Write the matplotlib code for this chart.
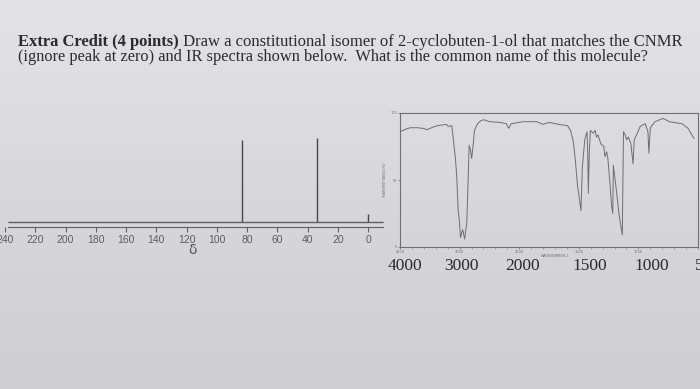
import numpy as np
import matplotlib
matplotlib.use("Agg")
import matplotlib.pyplot as plt
import matplotlib.transforms as mtransforms

# --- data ---
nmr_shift = [83, 34, 0]          # ppm
nmr_height = [0.99, 1.01, 0.10]  # relative intensity
nmr_ticks = list(range(240, -1, -20))

ir_wn = [4000, 3900, 3830, 3700, 3610, 3550, 3500, 3380, 3220, 3192, 3130, 3097,
         3070, 3047, 3025, 3005, 2985, 2950, 2915, 2880, 2860, 2840, 2815, 2798,
         2775, 2750, 2700, 2650, 2600, 2490, 2325, 2215, 2177, 2133, 1967, 1852,
         1800, 1750, 1666, 1595, 1569, 1546, 1528, 1511, 1492, 1482, 1470, 1450,
         1431, 1425, 1420, 1412, 1403, 1378, 1363, 1352, 1339, 1315, 1290, 1281,
         1266, 1256, 1240, 1225, 1215, 1210, 1187, 1162, 1135, 1125, 1110, 1099,
         1084, 1063, 1045, 1035, 1016, 985, 943, 920, 912, 900, 861, 793, 740,
         634, 583, 534]
ir_t = [86, 88, 89, 89, 88.5, 87.5, 88.5, 90.5, 91.5, 90, 90.5, 77,
        66, 52, 28, 20, 7, 13, 6, 18, 45, 76, 72, 66,
        75, 87, 92, 94, 95, 93.5, 93, 92, 88.5, 92, 93.5, 93.5,
        91.5, 93, 91.5, 90.5, 87, 78.6, 63.7, 46, 34, 27, 60, 80,
        86, 70, 40, 70, 87, 85, 87, 82, 83.6, 77, 75, 67.4,
        71, 66, 49, 31, 25, 61, 44, 24, 9, 86, 83.6, 80,
        82, 77, 62, 80, 83.6, 90, 92, 86, 70, 89, 93.5, 96, 93.5,
        92, 88.5, 81]
ir_ticks = [4000, 3000, 2000, 1500, 1000, 500]
ir_minor = [3800, 3600, 3400, 3200, 2800, 2600, 2400, 2200, 1900, 1800, 1700,
            1600, 1400, 1300, 1200, 1100, 900, 800, 700, 600]
# the big labels were typed under the printout, a little right of its ticks
label_shift_px = [5, 2, 3, 11, 13, 10]

line1_bold = "Extra Credit (4 points)"
line1_rest = " Draw a constitutional isomer of 2-cyclobuten-1-ol that matches the CNMR"
line2 = "(ignore peak at zero) and IR spectra shown below.  What is the common name of this molecule?"

serif = "Liberation Serif"
ink = "#2b2b2d"

fig = plt.figure(figsize=(7, 3.89), dpi=100)

# paper background
bg = fig.add_axes([0, 0, 1, 1], zorder=-10)
grad = np.linspace(0, 1, 100)[:, None]
top = np.array([0.89, 0.89, 0.90])
bot = np.array([0.805, 0.805, 0.825])
img = top[None, None, :] * (1 - grad[..., None]) + bot[None, None, :] * grad[..., None]
bg.imshow(np.repeat(img, 2, axis=1), aspect="auto", extent=[0, 1, 0, 1])
bg.axis("off")

# question text
t1 = fig.text(18 / 700, 1 - 42 / 389, line1_bold, fontsize=12, fontweight="bold",
              family=serif, color=ink, va="center", ha="left")
plt.annotate(line1_rest, xy=(1, 0), xycoords=t1, va="bottom", ha="left",
             fontsize=12, family=serif, color=ink, annotation_clip=False)
fig.text(18 / 700, 1 - 57 / 389, line2, fontsize=11.8, family=serif, color=ink,
         va="center", ha="left")

# --- C-NMR ---
ax1 = fig.add_axes([0, (389 - 227) / 389, 385 / 700, 97 / 389], facecolor="none")
ax1.vlines(nmr_shift, 0, nmr_height, color="#48484a", lw=1.0)
ax1.hlines(0, 238, -10, color="#606062", lw=1.0)
ax1.set_xlim(243.3, -11.2)
ax1.set_ylim(-0.06, 1.108)
for s in ["top", "left", "right"]:
    ax1.spines[s].set_visible(False)
ax1.spines["bottom"].set_bounds(238, -10)
ax1.spines["bottom"].set_color("#606062")
ax1.set_yticks([])
ax1.set_xticks(nmr_ticks)
ax1.set_xticklabels([str(v) for v in nmr_ticks], family="Liberation Sans",
                    fontsize=7.5, color="#5e5e62")
ax1.tick_params(axis="x", direction="out", length=3.6, width=0.8, color="#606062", pad=2)
ax1.set_xlabel("δ", family="DejaVu Sans", fontsize=10, color="#555558", labelpad=-1)

# --- IR (SDBS style: 2x expanded below 2000 cm-1) ---
def fwd(w):
    w = np.asarray(w, dtype=float)
    return -np.where(w >= 2000, (4000 - w) / 1000, 2 + (2000 - w) / 500)

def inv(p):
    p = -np.asarray(p, dtype=float)
    return np.where(p <= 2, 4000 - 1000 * p, 2000 - 500 * (p - 2))

ax2 = fig.add_axes([400 / 700, (389 - 247) / 389, 298 / 700, 134 / 389], facecolor="none")
ax2.set_xscale("function", functions=(fwd, inv))
ax2.plot(ir_wn, ir_t, color="#6e6e72", lw=0.7)
ax2.set_xlim(4000, 517)
ax2.set_ylim(0, 100)
for s in ax2.spines.values():
    s.set_color("#707074")
    s.set_linewidth(0.8)
ax2.set_xticks(ir_ticks)
ax2.set_xticklabels([])
ax2.set_xticks(ir_minor, minor=True)
ax2.tick_params(axis="x", which="major", direction="out", length=1.5, width=0.5,
                color="#707074")
ax2.tick_params(axis="x", which="minor", direction="out", length=1.2, width=0.5,
                color="#8a8a8e")
ax2.set_yticks([0, 50, 100])
ax2.set_yticklabels(["0", "50", "100"], fontsize=2.5, color="#707074")
ax2.tick_params(axis="y", direction="out", length=1.2, width=0.5, color="#707074", pad=1)

xt = ax2.get_xaxis_transform()
for v, dx in zip(ir_ticks, label_shift_px):
    # tiny printed tick values
    if v != 500:
        ax2.text(v, -0.025, str(v), transform=xt, fontsize=2.5,
                 color="#707074", ha="center", va="top")
    # large typed labels underneath
    ax2.text(v, -0.145, str(v), fontsize=12.5, family=serif, color=ink,
             ha="center", va="center", clip_on=False,
             transform=xt + mtransforms.ScaledTranslation(dx / 100, 0, fig.dpi_scale_trans))
ax2.text(0.52, -0.055, "WAVENUMBER-1", transform=ax2.transAxes, fontsize=2.5,
         color="#707074", ha="center", va="top")
ax2.set_ylabel("TRANSMITTANCE(%)", fontsize=2.5, color="#707074", labelpad=2)

fig.savefig("out.png", dpi=100)
